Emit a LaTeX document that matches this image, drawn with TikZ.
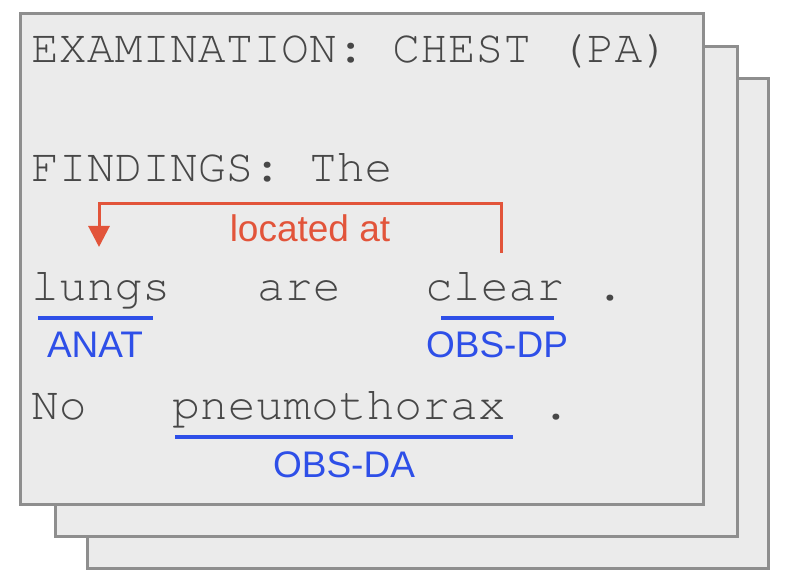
\documentclass[tikz,border=0pt]{standalone}
\usepackage{fontspec}
\setmainfont{Liberation Sans}
\usetikzlibrary{arrows.meta,calc}
\definecolor{sheetfill}{HTML}{EBEBEB}
\definecolor{sheetedge}{HTML}{8E8E8E}
\definecolor{inkgray}{HTML}{474747}
\definecolor{relred}{HTML}{E2543A}
\definecolor{tagblue}{HTML}{2E4FE8}
% Courier-style typewriter face for the report text
\newcommand{\typefont}{\fontencoding{T1}\fontfamily{pcr}\fontsize{46.3}{50}\selectfont}
\begin{document}
\begin{tikzpicture}[x=1pt,y=-1pt,
  sheet/.style={fill=sheetfill,draw=sheetedge,line width=3pt},
  word/.style={anchor=base west,inner sep=0pt,text=inkgray,font=\typefont},
  tag/.style={anchor=base,inner sep=0pt,text=tagblue,font=\fontsize{37}{40}\selectfont},
  uline/.style={draw=tagblue,line width=3.5pt},
  relation/.style={draw=relred,line width=3pt,-{Triangle[width=21pt,length=21pt]}},
  rellabel/.style={anchor=base,inner sep=0pt,text=relred,font=\fontsize{37}{40}\selectfont}]
\useasboundingbox (0,0) rectangle (800,585);

% stacked report pages, back to front
\draw[sheet] (87,79) rectangle (768,568);
\draw[sheet] (55,47) rectangle (737,536);
\draw[sheet] (20,14) rectangle (703,504);

% report text
\node[word] (head)   at (31,63)  {EXAMINATION: CHEST (PA)};
\node[word] (find)   at (31,182) {FINDINGS: The};
\node[word] (lungs)  at (31,300) {lungs};
\node[word] (are)    at (257,300) {are};
\node[word] (clear)  at (425,300) {clear};
\node[word] (dotone) at (596,300) {.};
\node[word] (no)     at (31,419) {No};
\node[word] (pneumo) at (172,419) {pneumothorax};
\node[word] (dottwo) at (542,419) {.};

% entity spans
\draw[uline] ($(lungs.base west)+(7,18)$) -- ($(lungs.base west)+(122,18)$);
\draw[uline] ($(clear.base west)+(16,18)$) -- ($(clear.base west)+(129,18)$);
\draw[uline] ($(pneumo.base west)+(3,18)$) -- ($(pneumo.base west)+(341,18)$);

% entity tags
\node[tag] (anat)  at (95,357)  {ANAT};
\node[tag] (obsdp) at (497,357) {OBS-DP};
\node[tag] (obsda) at (344,477) {OBS-DA};

% relation between entities
\coordinate (relsrc) at ($(clear.base west)+(76,-47)$);
\coordinate (reldst) at ($(lungs.base west)+(68,-53)$);
\draw[relation] (relsrc) -- ++(0,-49) -| (reldst);
\node[rellabel] (loclabel) at (310,242) {located at};
\end{tikzpicture}
\end{document}
